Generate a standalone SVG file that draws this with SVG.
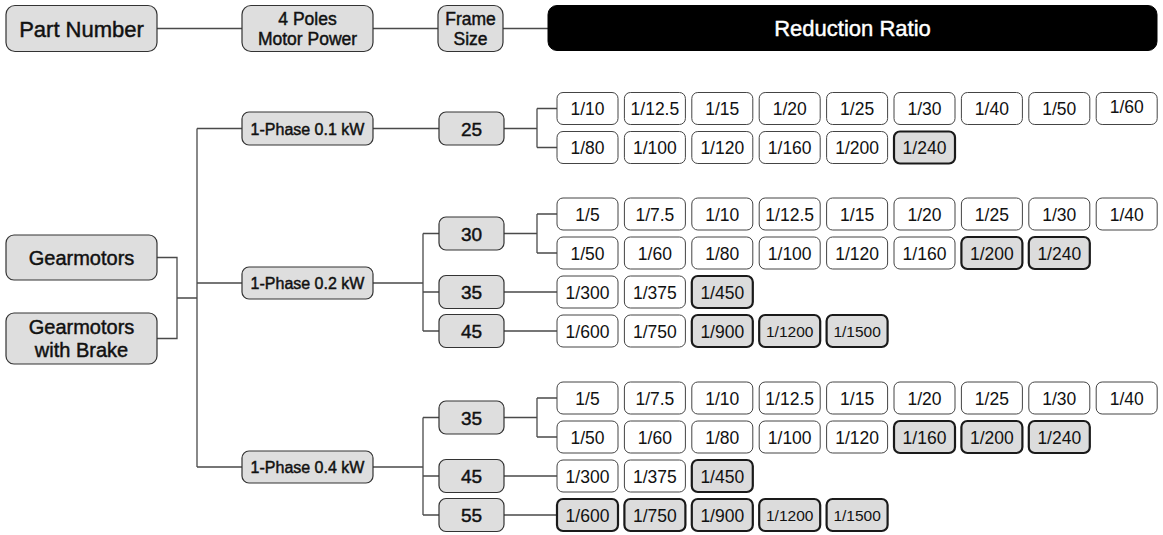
<svg xmlns="http://www.w3.org/2000/svg" width="1163" height="535" viewBox="0 0 1163 535">
<style>
text{font-family:"Liberation Sans",Arial,sans-serif;fill:#111;text-anchor:middle;dominant-baseline:central}
.n{fill:#dedede;stroke:#333;stroke-width:1.2}
.k{fill:#000;stroke:#000}
.w{fill:#fff;stroke:#444;stroke-width:1}
.h{fill:#dcdcdc;stroke:#1a1a1a;stroke-width:2.2}
.c{fill:none;stroke:#4a4a4a;stroke-width:1.3}
.b{stroke:#111;stroke-width:0.45}
.t1{font-size:22px}
.t2{font-size:17.5px}
.t3{font-size:20px}
.ph{font-size:16px}
.fr{font-size:19px}
.r{font-size:17.5px}
.rs{font-size:15.5px}
.wt{fill:#fff;stroke:#fff}
</style>
<g id="connectors" class="c">
<path d="M157 28.5H242M373 28.5H438M503 28.5H548"/>
<path d="M157 257.5H177V338.5H157M177 298H197M197 128.5V467M197 128.5H242M197 283H242M197 467H242"/>
<path d="M373 128.5H439M504 128.5H537M537 108.5V147.5M537 108.5H557M537 147.5H557"/>
<path d="M373 283H423M423 233.5V331M423 233.5H439M423 292H439M423 331H439"/>
<path d="M504 233.5H537M537 214V253M537 214H557M537 253H557M504 292H557M504 331H557"/>
<path d="M373 467H423M423 417.5V515M423 417.5H439M423 476H439M423 515H439"/>
<path d="M504 417.5H537M537 398V437M537 398H557M537 437H557M504 476H557M504 515H557"/>
</g>
<g id="part-number"><rect class="n" x="6" y="5.5" width="151" height="46" rx="9"/><text class="t1 b" x="81.5" y="29">Part Number</text></g>
<g id="motor-power"><rect class="n" x="242" y="5.5" width="131" height="46" rx="9"/><text class="t2 b" x="307.5" y="19">4 Poles</text><text class="t2 b" x="307.5" y="39">Motor Power</text></g>
<g id="frame-size"><rect class="n" x="438" y="5.5" width="65" height="46" rx="9"/><text class="t2 b" x="470.5" y="19">Frame</text><text class="t2 b" x="470.5" y="39">Size</text></g>
<g id="reduction-ratio"><rect class="k" x="548" y="5.5" width="609" height="45" rx="9"/><text class="t1 b wt" x="852.5" y="28">Reduction Ratio</text></g>
<g id="gearmotors"><rect class="n" x="6" y="235" width="151" height="45" rx="8"/><text class="t3 b" x="81.5" y="258">Gearmotors</text></g>
<g id="gearmotors-brake"><rect class="n" x="6" y="313" width="151" height="51" rx="8"/><text class="t3 b" x="81.5" y="327">Gearmotors</text><text class="t3 b" x="81.5" y="350">with Brake</text></g>
<g id="p01"><rect class="n" x="242" y="112" width="131" height="33" rx="7"/><text class="ph b" x="307.5" y="129">1-Phase 0.1 kW</text></g>
<g id="p02"><rect class="n" x="242" y="267" width="131" height="32" rx="7"/><text class="ph b" x="307.5" y="283.5">1-Phase 0.2 kW</text></g>
<g id="p04"><rect class="n" x="242" y="451" width="131" height="32" rx="7"/><text class="ph b" x="307.5" y="467.5">1-Phase 0.4 kW</text></g>
<g id="f25"><rect class="n" x="439" y="112" width="65" height="33" rx="7"/><text class="fr b" x="471.5" y="129">25</text></g>
<g id="f30"><rect class="n" x="439" y="217" width="65" height="33" rx="7"/><text class="fr b" x="471.5" y="234">30</text></g>
<g id="f35a"><rect class="n" x="439" y="275.5" width="65" height="33" rx="7"/><text class="fr b" x="471.5" y="292.5">35</text></g>
<g id="f45a"><rect class="n" x="439" y="314.5" width="65" height="33" rx="7"/><text class="fr b" x="471.5" y="331.5">45</text></g>
<g id="f35b"><rect class="n" x="439" y="401" width="65" height="33" rx="7"/><text class="fr b" x="471.5" y="418">35</text></g>
<g id="f45b"><rect class="n" x="439" y="459.5" width="65" height="33" rx="7"/><text class="fr b" x="471.5" y="476.5">45</text></g>
<g id="f55"><rect class="n" x="439" y="498.5" width="65" height="33" rx="7"/><text class="fr b" x="471.5" y="515.5">55</text></g>
<g id="r25a">
<g id="r25a0"><rect class="w" x="557" y="92.5" width="61" height="32" rx="6"/><text class="r" x="587.5" y="109">1/10</text></g>
<g id="r25a1"><rect class="w" x="624.4" y="92.5" width="61" height="32" rx="6"/><text class="r" x="654.9" y="109">1/12.5</text></g>
<g id="r25a2"><rect class="w" x="691.8" y="92.5" width="61" height="32" rx="6"/><text class="r" x="722.3" y="109">1/15</text></g>
<g id="r25a3"><rect class="w" x="759.2" y="92.5" width="61" height="32" rx="6"/><text class="r" x="789.7" y="109">1/20</text></g>
<g id="r25a4"><rect class="w" x="826.6" y="92.5" width="61" height="32" rx="6"/><text class="r" x="857.1" y="109">1/25</text></g>
<g id="r25a5"><rect class="w" x="894" y="92.5" width="61" height="32" rx="6"/><text class="r" x="924.5" y="109">1/30</text></g>
<g id="r25a6"><rect class="w" x="961.4" y="92.5" width="61" height="32" rx="6"/><text class="r" x="991.9" y="109">1/40</text></g>
<g id="r25a7"><rect class="w" x="1028.8" y="92.5" width="61" height="32" rx="6"/><text class="r" x="1059.3" y="109">1/50</text></g>
<g id="r25a8"><rect class="w" x="1096.2" y="92.5" width="61" height="32" rx="6"/><text class="r" x="1126.7" y="107">1/60</text></g>
</g>
<g id="r25b">
<g id="r25b0"><rect class="w" x="557" y="131.5" width="61" height="32" rx="6"/><text class="r" x="587.5" y="148">1/80</text></g>
<g id="r25b1"><rect class="w" x="624.4" y="131.5" width="61" height="32" rx="6"/><text class="r" x="654.9" y="148">1/100</text></g>
<g id="r25b2"><rect class="w" x="691.8" y="131.5" width="61" height="32" rx="6"/><text class="r" x="722.3" y="148">1/120</text></g>
<g id="r25b3"><rect class="w" x="759.2" y="131.5" width="61" height="32" rx="6"/><text class="r" x="789.7" y="148">1/160</text></g>
<g id="r25b4"><rect class="w" x="826.6" y="131.5" width="61" height="32" rx="6"/><text class="r" x="857.1" y="148">1/200</text></g>
<g id="r25b5"><rect class="h" x="894" y="131.5" width="61" height="32" rx="6"/><text class="r" x="924.5" y="148">1/240</text></g>
</g>
<g id="r30a">
<g id="r30a0"><rect class="w" x="557" y="198" width="61" height="32" rx="6"/><text class="r" x="587.5" y="214.5">1/5</text></g>
<g id="r30a1"><rect class="w" x="624.4" y="198" width="61" height="32" rx="6"/><text class="r" x="654.9" y="214.5">1/7.5</text></g>
<g id="r30a2"><rect class="w" x="691.8" y="198" width="61" height="32" rx="6"/><text class="r" x="722.3" y="214.5">1/10</text></g>
<g id="r30a3"><rect class="w" x="759.2" y="198" width="61" height="32" rx="6"/><text class="r" x="789.7" y="214.5">1/12.5</text></g>
<g id="r30a4"><rect class="w" x="826.6" y="198" width="61" height="32" rx="6"/><text class="r" x="857.1" y="214.5">1/15</text></g>
<g id="r30a5"><rect class="w" x="894" y="198" width="61" height="32" rx="6"/><text class="r" x="924.5" y="214.5">1/20</text></g>
<g id="r30a6"><rect class="w" x="961.4" y="198" width="61" height="32" rx="6"/><text class="r" x="991.9" y="214.5">1/25</text></g>
<g id="r30a7"><rect class="w" x="1028.8" y="198" width="61" height="32" rx="6"/><text class="r" x="1059.3" y="214.5">1/30</text></g>
<g id="r30a8"><rect class="w" x="1096.2" y="198" width="61" height="32" rx="6"/><text class="r" x="1126.7" y="214.5">1/40</text></g>
</g>
<g id="r30b">
<g id="r30b0"><rect class="w" x="557" y="237" width="61" height="32" rx="6"/><text class="r" x="587.5" y="253.5">1/50</text></g>
<g id="r30b1"><rect class="w" x="624.4" y="237" width="61" height="32" rx="6"/><text class="r" x="654.9" y="253.5">1/60</text></g>
<g id="r30b2"><rect class="w" x="691.8" y="237" width="61" height="32" rx="6"/><text class="r" x="722.3" y="253.5">1/80</text></g>
<g id="r30b3"><rect class="w" x="759.2" y="237" width="61" height="32" rx="6"/><text class="r" x="789.7" y="253.5">1/100</text></g>
<g id="r30b4"><rect class="w" x="826.6" y="237" width="61" height="32" rx="6"/><text class="r" x="857.1" y="253.5">1/120</text></g>
<g id="r30b5"><rect class="w" x="894" y="237" width="61" height="32" rx="6"/><text class="r" x="924.5" y="253.5">1/160</text></g>
<g id="r30b6"><rect class="h" x="961.4" y="237" width="61" height="32" rx="6"/><text class="r" x="991.9" y="253.5">1/200</text></g>
<g id="r30b7"><rect class="h" x="1028.8" y="237" width="61" height="32" rx="6"/><text class="r" x="1059.3" y="253.5">1/240</text></g>
</g>
<g id="r35a">
<g id="r35a0"><rect class="w" x="557" y="276" width="61" height="32" rx="6"/><text class="r" x="587.5" y="292.5">1/300</text></g>
<g id="r35a1"><rect class="w" x="624.4" y="276" width="61" height="32" rx="6"/><text class="r" x="654.9" y="292.5">1/375</text></g>
<g id="r35a2"><rect class="h" x="691.8" y="276" width="61" height="32" rx="6"/><text class="r" x="722.3" y="292.5">1/450</text></g>
</g>
<g id="r45a">
<g id="r45a0"><rect class="w" x="557" y="315" width="61" height="32" rx="6"/><text class="r" x="587.5" y="331.5">1/600</text></g>
<g id="r45a1"><rect class="w" x="624.4" y="315" width="61" height="32" rx="6"/><text class="r" x="654.9" y="331.5">1/750</text></g>
<g id="r45a2"><rect class="h" x="691.8" y="315" width="61" height="32" rx="6"/><text class="r" x="722.3" y="331.5">1/900</text></g>
<g id="r45a3"><rect class="h" x="759.2" y="315" width="61" height="32" rx="6"/><text class="rs" x="789.7" y="331.5">1/1200</text></g>
<g id="r45a4"><rect class="h" x="826.6" y="315" width="61" height="32" rx="6"/><text class="rs" x="857.1" y="331.5">1/1500</text></g>
</g>
<g id="r35ba">
<g id="r35ba0"><rect class="w" x="557" y="382" width="61" height="32" rx="6"/><text class="r" x="587.5" y="398.5">1/5</text></g>
<g id="r35ba1"><rect class="w" x="624.4" y="382" width="61" height="32" rx="6"/><text class="r" x="654.9" y="398.5">1/7.5</text></g>
<g id="r35ba2"><rect class="w" x="691.8" y="382" width="61" height="32" rx="6"/><text class="r" x="722.3" y="398.5">1/10</text></g>
<g id="r35ba3"><rect class="w" x="759.2" y="382" width="61" height="32" rx="6"/><text class="r" x="789.7" y="398.5">1/12.5</text></g>
<g id="r35ba4"><rect class="w" x="826.6" y="382" width="61" height="32" rx="6"/><text class="r" x="857.1" y="398.5">1/15</text></g>
<g id="r35ba5"><rect class="w" x="894" y="382" width="61" height="32" rx="6"/><text class="r" x="924.5" y="398.5">1/20</text></g>
<g id="r35ba6"><rect class="w" x="961.4" y="382" width="61" height="32" rx="6"/><text class="r" x="991.9" y="398.5">1/25</text></g>
<g id="r35ba7"><rect class="w" x="1028.8" y="382" width="61" height="32" rx="6"/><text class="r" x="1059.3" y="398.5">1/30</text></g>
<g id="r35ba8"><rect class="w" x="1096.2" y="382" width="61" height="32" rx="6"/><text class="r" x="1126.7" y="398.5">1/40</text></g>
</g>
<g id="r35bb">
<g id="r35bb0"><rect class="w" x="557" y="421" width="61" height="32" rx="6"/><text class="r" x="587.5" y="437.5">1/50</text></g>
<g id="r35bb1"><rect class="w" x="624.4" y="421" width="61" height="32" rx="6"/><text class="r" x="654.9" y="437.5">1/60</text></g>
<g id="r35bb2"><rect class="w" x="691.8" y="421" width="61" height="32" rx="6"/><text class="r" x="722.3" y="437.5">1/80</text></g>
<g id="r35bb3"><rect class="w" x="759.2" y="421" width="61" height="32" rx="6"/><text class="r" x="789.7" y="437.5">1/100</text></g>
<g id="r35bb4"><rect class="w" x="826.6" y="421" width="61" height="32" rx="6"/><text class="r" x="857.1" y="437.5">1/120</text></g>
<g id="r35bb5"><rect class="h" x="894" y="421" width="61" height="32" rx="6"/><text class="r" x="924.5" y="437.5">1/160</text></g>
<g id="r35bb6"><rect class="h" x="961.4" y="421" width="61" height="32" rx="6"/><text class="r" x="991.9" y="437.5">1/200</text></g>
<g id="r35bb7"><rect class="h" x="1028.8" y="421" width="61" height="32" rx="6"/><text class="r" x="1059.3" y="437.5">1/240</text></g>
</g>
<g id="r45b">
<g id="r45b0"><rect class="w" x="557" y="460" width="61" height="32" rx="6"/><text class="r" x="587.5" y="476.5">1/300</text></g>
<g id="r45b1"><rect class="w" x="624.4" y="460" width="61" height="32" rx="6"/><text class="r" x="654.9" y="476.5">1/375</text></g>
<g id="r45b2"><rect class="h" x="691.8" y="460" width="61" height="32" rx="6"/><text class="r" x="722.3" y="476.5">1/450</text></g>
</g>
<g id="r55">
<g id="r550"><rect class="h" x="557" y="499" width="61" height="32" rx="6"/><text class="r" x="587.5" y="515.5">1/600</text></g>
<g id="r551"><rect class="h" x="624.4" y="499" width="61" height="32" rx="6"/><text class="r" x="654.9" y="515.5">1/750</text></g>
<g id="r552"><rect class="h" x="691.8" y="499" width="61" height="32" rx="6"/><text class="r" x="722.3" y="515.5">1/900</text></g>
<g id="r553"><rect class="h" x="759.2" y="499" width="61" height="32" rx="6"/><text class="rs" x="789.7" y="515.5">1/1200</text></g>
<g id="r554"><rect class="h" x="826.6" y="499" width="61" height="32" rx="6"/><text class="rs" x="857.1" y="515.5">1/1500</text></g>
</g>
</svg>
